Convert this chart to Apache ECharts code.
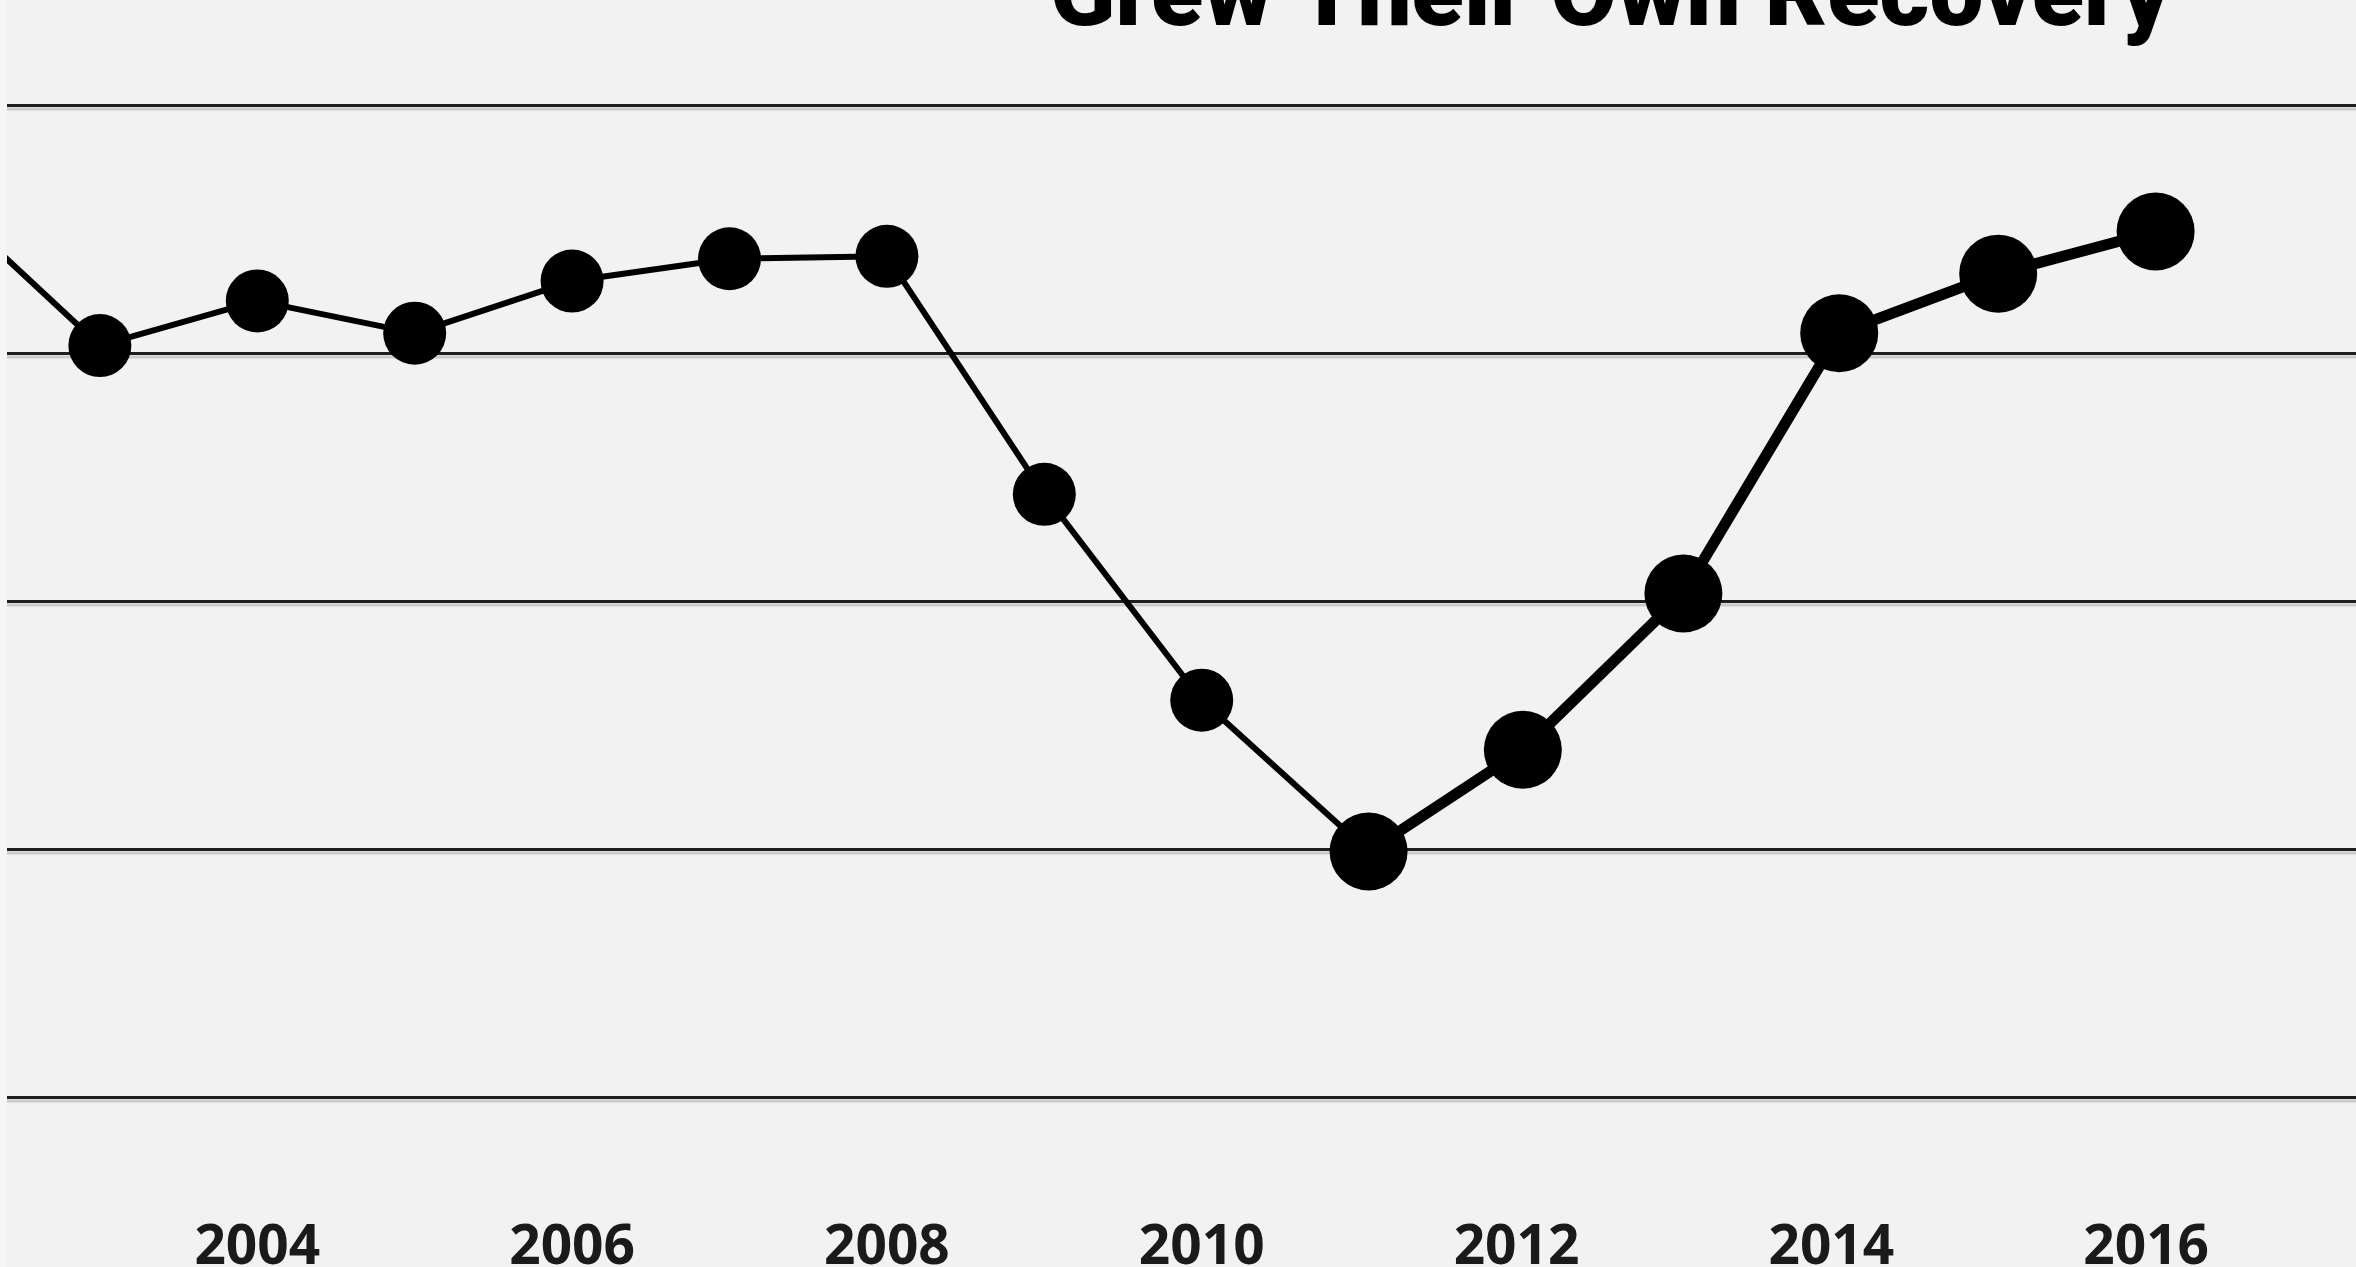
<!DOCTYPE html>
<html>
<head>
<meta charset="utf-8">
<style>
  html, body { margin: 0; padding: 0; background: #f2f2f2; overflow: hidden; }
  #chart { width: 2356px; height: 1267px; }
</style>
<script src="https://cdn.jsdelivr.net/npm/echarts@6.0.0/dist/echarts.min.js"></script>
</head>
<body>
<div id="chart"></div>
<script>
// Point positions (years) and values (gridlines at 0,1,2,3,4)
const yearsBefore = [2002, 2003, 2004, 2005, 2006, 2007, 2008, 2009, 2010, 2011.06];
const valuesBefore = [3.62, 3.03, 3.21, 3.08, 3.29, 3.38, 3.39, 2.43, 1.60, 0.99];
const yearsRecovery = [2011.06, 2012.04, 2013.06, 2014.05, 2015.06, 2016.06];
const valuesRecovery = [0.99, 1.40, 2.03, 3.08, 3.32, 3.49];
const tickYears = [2004, 2006, 2008, 2010, 2012, 2014, 2016];
const titleText = 'Grew Their Own Recovery';

const chart = echarts.init(document.getElementById('chart'), null, { renderer: 'canvas' });

const pairs = (xs, ys) => xs.map((x, i) => [x, ys[i]]);

chart.setOption({
  animation: false,
  backgroundColor: '#f2f2f2',
  grid: { left: 7, right: 0, top: 105, bottom: 170, containLabel: false, outerBoundsMode: 'none' },
  xAxis: {
    type: 'value',
    min: 2002.41,
    max: 2017.333,
    axisLine: { show: false },
    axisTick: { show: false },
    splitLine: { show: false },
    axisLabel: {
      customValues: tickYears,
      formatter: v => String(v),
      fontFamily: 'Open Sans',
      fontWeight: 'bold',
      fontSize: 55,
      color: '#1a1a1a',
      verticalAlign: 'middle',
      margin: 151
    }
  },
  yAxis: {
    type: 'value',
    min: 0,
    max: 4,
    interval: 1,
    axisLine: { show: false },
    axisTick: { show: false },
    axisLabel: { show: false },
    splitLine: {
      show: true,
      lineStyle: {
        color: '#1e1e1e',
        width: 3,
        shadowColor: '#cbcbcb',
        shadowOffsetY: 3.5,
        shadowBlur: 0
      }
    }
  },
  graphic: [
    {
      type: 'rect',
      left: 0, top: 0,
      shape: { width: 7, height: 1267 },
      style: { fill: '#f6f6f6' },
      z: 100
    },
    {
      type: 'text',
      x: 2171,
      y: 1,
      style: {
        text: titleText,
        fill: '#000000',
        fontFamily: 'Roboto',
        fontWeight: 900,
        fontSize: 96,
        textAlign: 'right',
        textVerticalAlign: 'middle'
      },
      z: 100
    }
  ],
  series: [
    {
      type: 'line',
      data: pairs(yearsBefore, valuesBefore),
      symbol: 'circle',
      symbolSize: 63,
      showSymbol: true,
      clip: true,
      lineStyle: { color: '#000', width: 6 },
      itemStyle: { color: '#000' },
      z: 2
    },
    {
      type: 'line',
      data: pairs(yearsRecovery, valuesRecovery),
      symbol: 'circle',
      symbolSize: 78,
      showSymbol: true,
      clip: true,
      lineStyle: { color: '#000', width: 11 },
      itemStyle: { color: '#000' },
      z: 3
    }
  ]
});
</script>
</body>
</html>
